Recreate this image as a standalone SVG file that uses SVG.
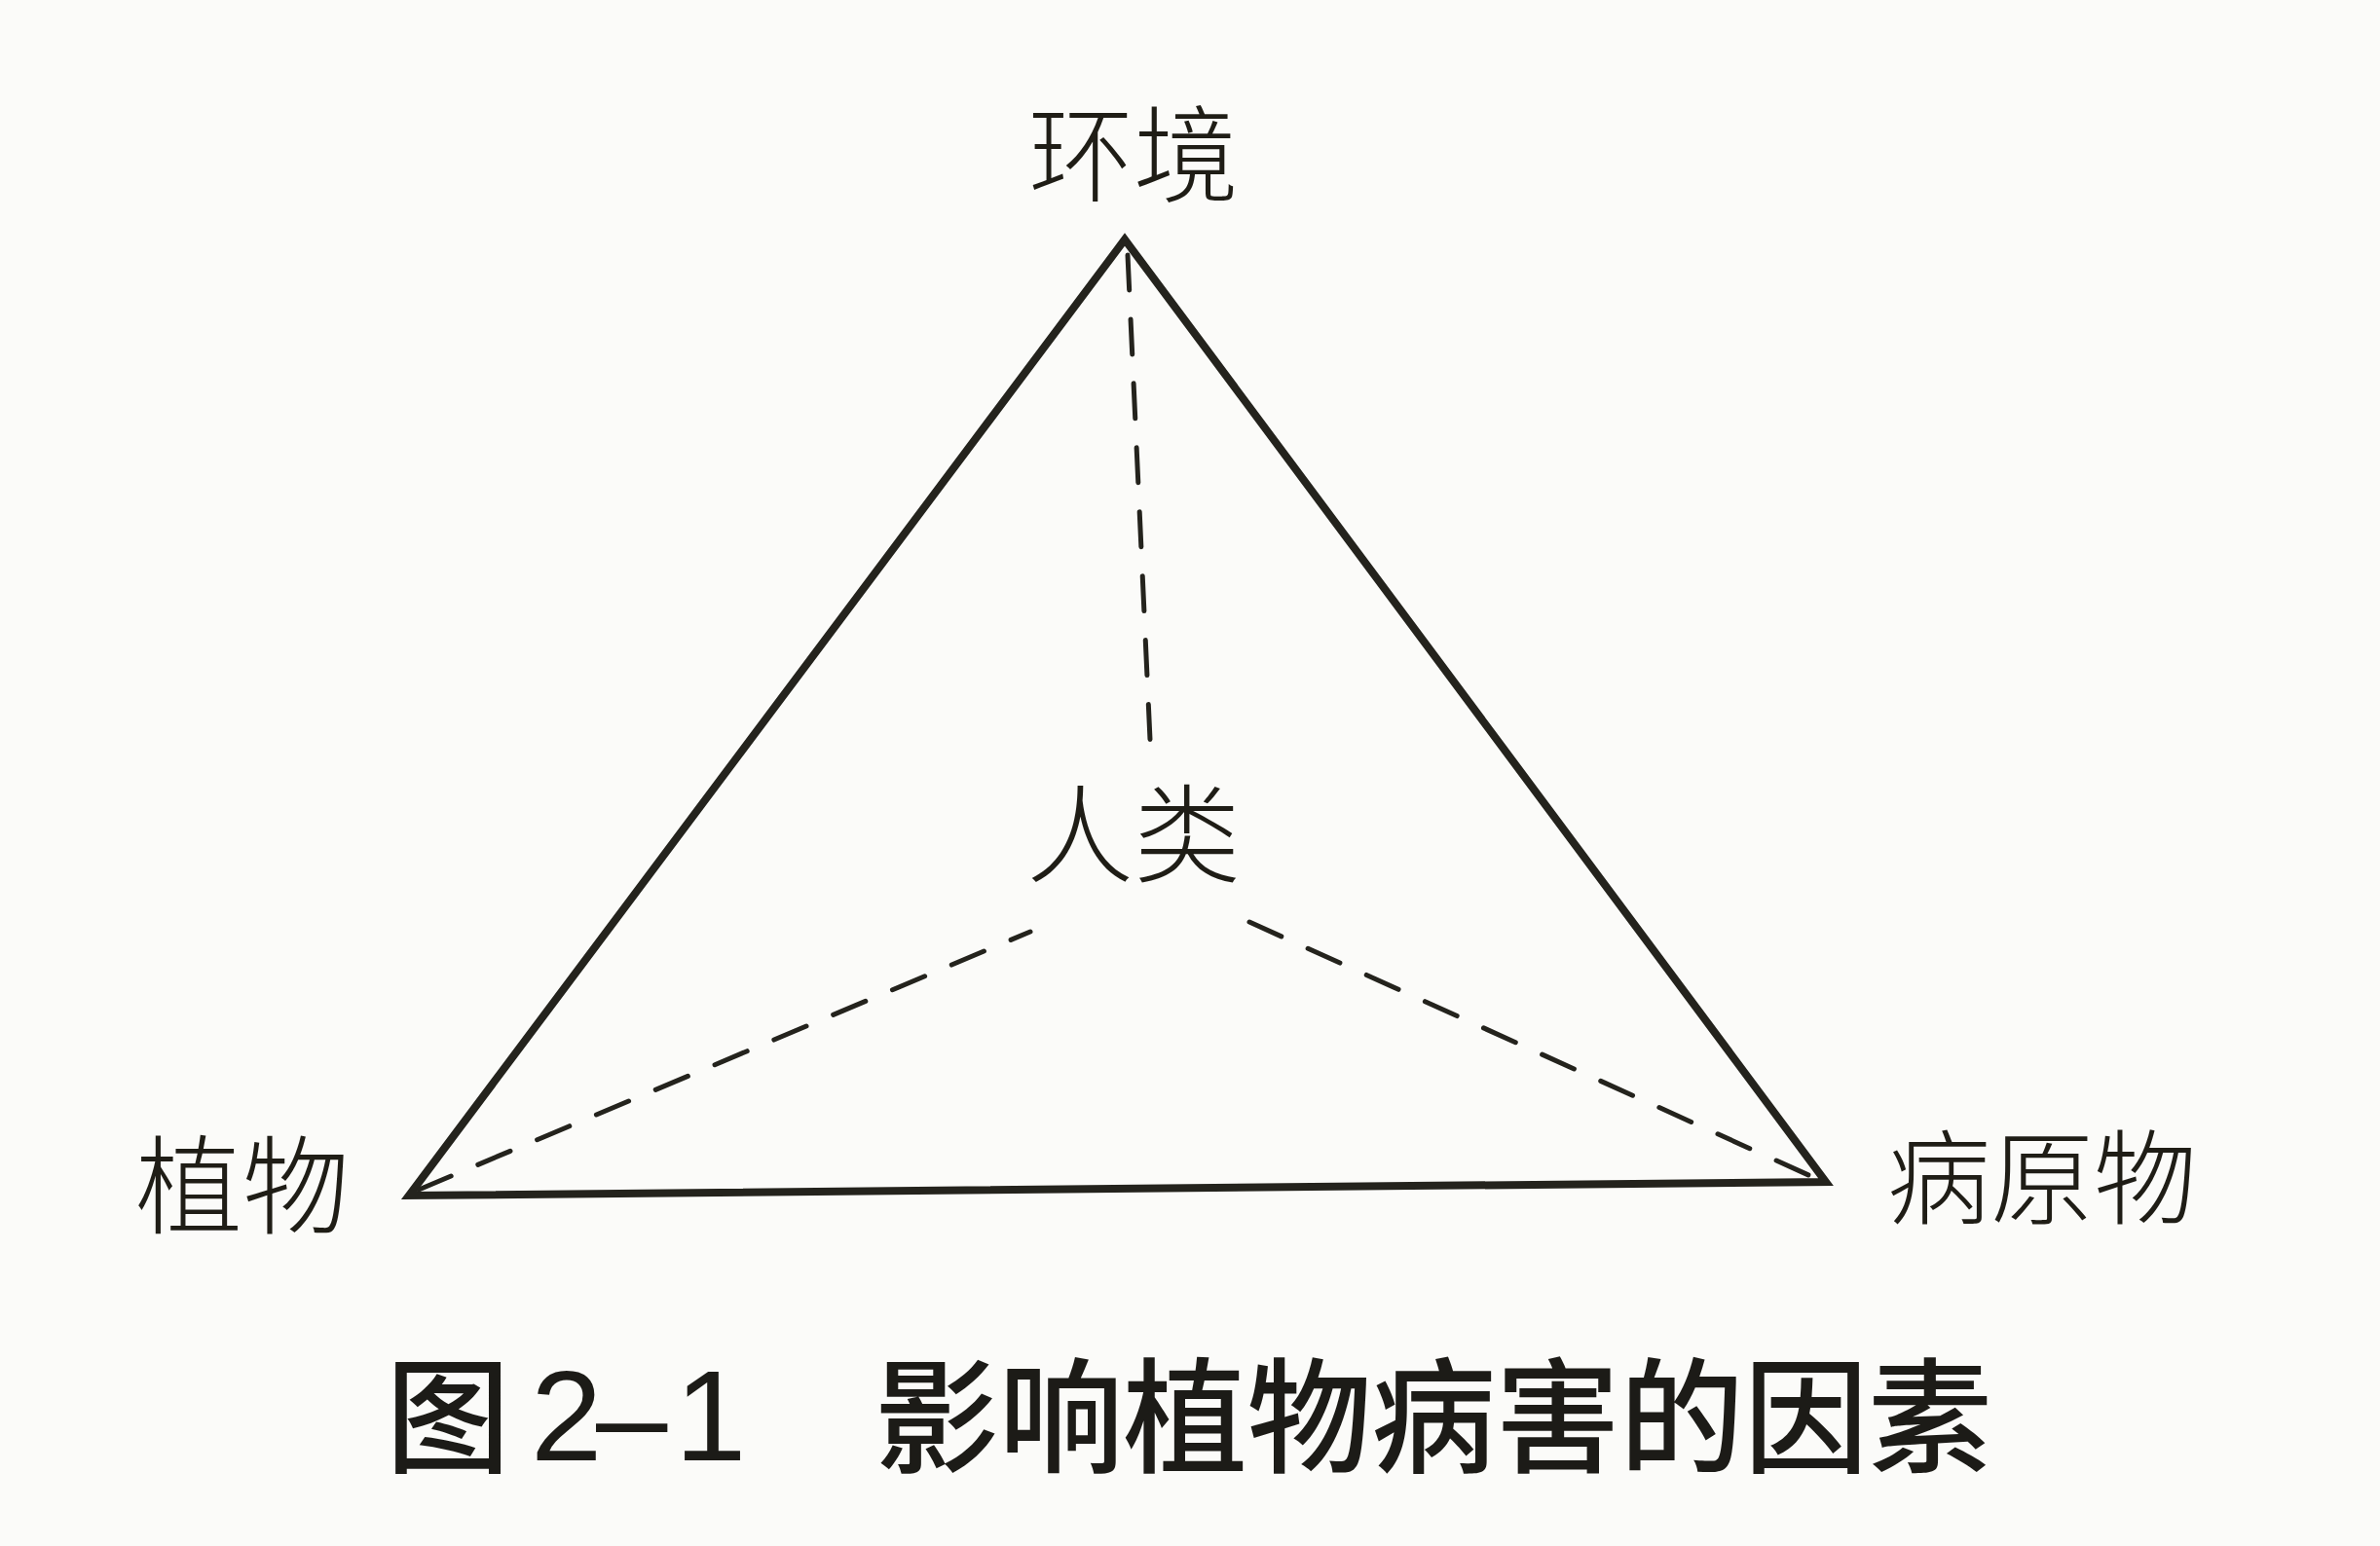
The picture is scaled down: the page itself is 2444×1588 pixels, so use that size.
<svg xmlns="http://www.w3.org/2000/svg" width="2444" height="1588" viewBox="0 0 2444 1588">
  <style>
    .lbl { font-family: "Noto Sans CJK SC", "Noto Sans", sans-serif; font-weight: 300; fill: #1f1d16; }
    .cap { font-family: "Noto Sans CJK SC", "Noto Sans", sans-serif; font-weight: 500; fill: #1c1b17; }
    .num { font-family: "Liberation Sans", Arial, sans-serif; font-weight: 400; fill: #1c1b17; }
    .edge { fill: none; stroke: #24231d; stroke-width: 8; stroke-linejoin: miter; stroke-miterlimit: 10; }
    .dash { fill: none; stroke: #24231d; stroke-width: 5; stroke-dasharray: 36 30; stroke-linecap: round; }
  </style>
  <rect x="0" y="0" width="2444" height="1588" fill="#fbfbf9"/>

  <g id="connectors">
    <polygon class="edge" points="1155,246 420,1228 1875,1214"/>
    <line class="dash" x1="1158" y1="262" x2="1181" y2="760"/>
    <line class="dash" x1="430" y1="1222" x2="1058" y2="957"/>
    <line class="dash" x1="1283" y1="947" x2="1866" y2="1211"/>
  </g>

  <g id="node-environment">
    <text class="lbl" x="1056" y="199" font-size="108">环境</text>
  </g>
  <g id="node-human">
    <text class="lbl" x="1054" y="898" font-size="110">人类</text>
  </g>
  <g id="node-plant">
    <text class="lbl" x="139" y="1259" font-size="110">植物</text>
  </g>
  <g id="node-pathogen">
    <text class="lbl" x="1938" y="1249" font-size="106">病原物</text>
  </g>

  <g id="caption">
    <text class="cap" x="396" y="1503" font-size="128">图</text>
    <text class="num" y="1500" font-size="132"><tspan x="545">2</tspan><tspan x="612">–</tspan><tspan x="693">1</tspan></text>
    <text class="cap" x="898" y="1503" font-size="128" textLength="1148" lengthAdjust="spacing">影响植物病害的因素</text>
  </g>
</svg>
